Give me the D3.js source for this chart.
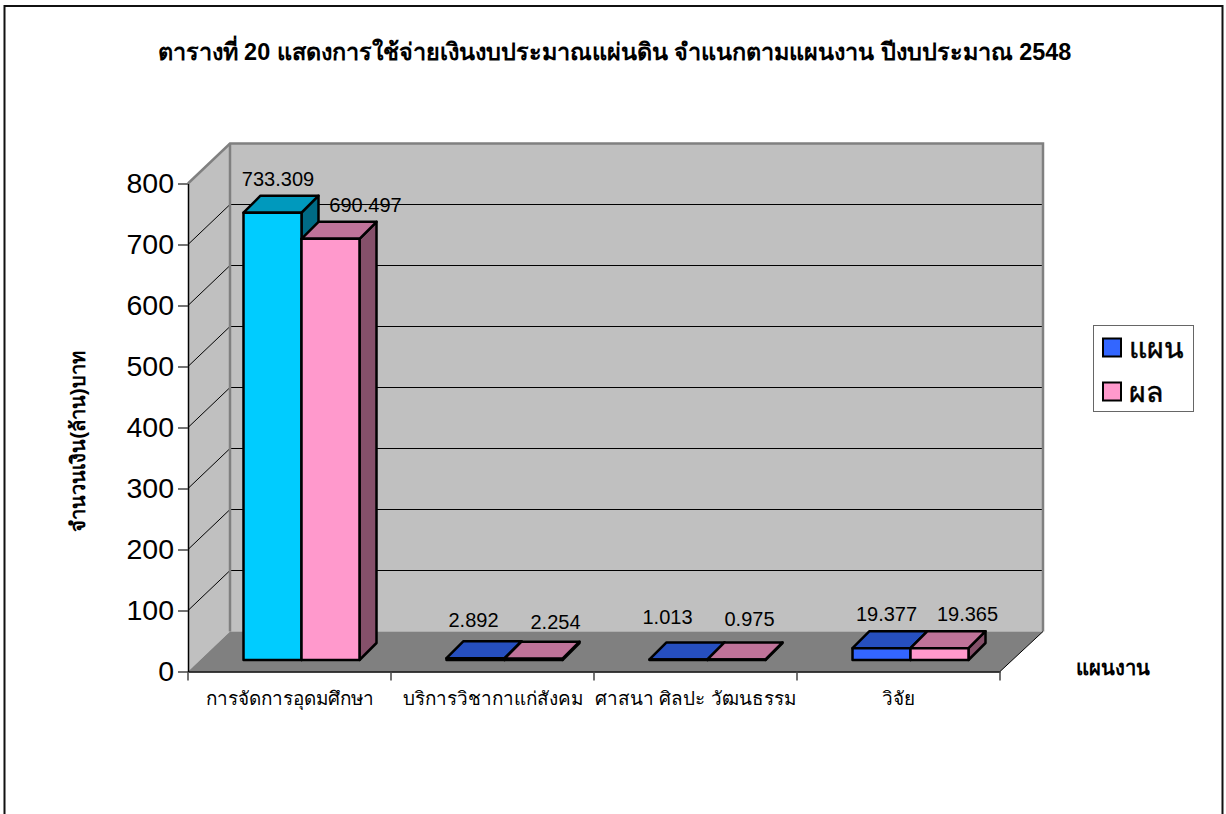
<!DOCTYPE html>
<html>
<head>
<meta charset="utf-8">
<script src="https://cdn.jsdelivr.net/npm/d3@7"></script>
<style>
html, body { margin: 0; padding: 0; background: #fff; }
svg { display: block; }
text { font-family: "Liberation Sans", Arial, "Noto Sans", sans-serif; fill: #000; }
</style>
</head>
<body>
<svg id="chart" width="1226" height="814"></svg>
<script>
var categories = ["การจัดการอุดมศึกษา", "บริการวิชากาแก่สังคม", "ศาสนา ศิลปะ วัฒนธรรม", "วิจัย"];
var seriesNames = ["แผน", "ผล"];
var planValues = [733.309, 2.892, 1.013, 19.377];
var resultValues = [690.497, 2.254, 0.975, 19.365];
var yTicks = [0, 100, 200, 300, 400, 500, 600, 700, 800];
var titleText = "ตารางที่ 20 แสดงการใช้จ่ายเงินงบประมาณแผ่นดิน จำแนกตามแผนงาน ปีงบประมาณ 2548";
var yAxisTitle = "จำนวนเงิน(ล้าน)บาท";
var xAxisTitle = "แผนงาน";

var svg = d3.select("#chart");

// frame, open at the bottom
svg.append("path")
	.attr("d", "M4.5,814V6H1222.5V814")
	.attr("fill", "none")
	.attr("stroke", "#111")
	.attr("stroke-width", 2);

var x = d3.scaleBand().domain(categories).range([188, 1000]);
var y = d3.scaleLinear().domain([0, 800]).range([671.5, 183.5]);

var depthX = 42, depthY = -40;

var walls = svg.append("g");
walls.append("polygon")
	.attr("points", [[188, y(0)], [188 + depthX, y(0) + depthY], [188 + depthX, y(800) + depthY], [188, y(800)]].join(" "))
	.attr("fill", "#c0c0c0");
walls.append("rect")
	.attr("x", 188 + depthX).attr("y", y(800) + depthY)
	.attr("width", 812 + 1).attr("height", 488)
	.attr("fill", "#c0c0c0");
walls.append("polygon")
	.attr("points", [[188, y(0)], [188 + depthX, y(0) + depthY], [1000 + depthX + 1, y(0) + depthY], [1000, y(0)]].join(" "))
	.attr("fill", "#808080");

// gridlines on side and back wall
var grid = svg.append("g");
grid.selectAll("path")
	.data(yTicks.slice(1))
	.enter().append("path")
	.attr("d", function (d) {
		return "M188," + y(d) + "L" + (188 + depthX) + "," + (y(d) + depthY) + "H" + (1000 + depthX + 1);
	})
	.attr("fill", "none")
	.attr("stroke", "#000")
	.attr("stroke-width", 1);

// wall outlines
walls = svg.append("g").attr("fill", "none").attr("stroke", "#808080").attr("stroke-width", 2.5);
walls.append("path").attr("d", "M188," + y(800) + "L" + (188 + depthX) + "," + (y(800) + depthY) + "H" + (1000 + depthX + 1) + "V" + (y(0) + depthY));
walls.append("path").attr("d", "M" + (188 + depthX) + "," + (y(800) + depthY) + "V" + (y(0) + depthY));
walls.append("path").attr("d", "M1000," + y(0) + "L" + (1000 + depthX + 1) + "," + (y(0) + depthY)).attr("stroke", "#000").attr("stroke-width", 1);

// axes
var xAxis = svg.append("g")
	.attr("transform", "translate(0," + y(0) + ")")
	.call(d3.axisBottom(x).tickValues([]).tickSize(0));
xAxis.select(".domain").attr("stroke", "#000").attr("stroke-width", 1.5);
svg.append("g").selectAll("line")
	.data(categories.concat([null]))
	.enter().append("line")
	.attr("x1", function (d) { return d === null ? 1000 : x(d); })
	.attr("x2", function (d) { return d === null ? 1000 : x(d); })
	.attr("y1", y(0))
	.attr("y2", y(0) + 9)
	.attr("stroke", "#444")
	.attr("stroke-width", 1.5);

var yAxis = svg.append("g")
	.attr("transform", "translate(188,0)")
	.call(d3.axisLeft(y).tickValues(yTicks).tickSize(10).tickPadding(4).tickSizeOuter(0));
yAxis.select(".domain").attr("stroke", "#000").attr("stroke-width", 1.5);
yAxis.selectAll(".tick line").attr("stroke", "#444").attr("stroke-width", 1.5);
yAxis.selectAll("text")
	.style("font-family", "'Liberation Sans'")
	.style("font-size", "28.5px");

// bars
var barX = d3.scaleBand().domain([0, 1]).range([0, 116]);
var barDX = 17, barDY = -17, barFloor = 11.5;

function barColor(s, i) {
	if (s === 0) {
		return i === 0
			? { front: "#00ccff", top: "#0099bd", side: "#006a85" }
			: { front: "#3366ff", top: "#264fbf", side: "#1b3985" };
	}
	return { front: "#ff99cc", top: "#bf7399", side: "#85506a" };
}

function barLeft(catIndex, s) {
	return x(categories[catIndex]) + 55.5 + barX(s);
}

function drawBar(group, catIndex, s, value) {
	var left = barLeft(catIndex, s);
	var w = barX.bandwidth();
	var bottom = y(0) - barFloor;
	var top = bottom - (y(0) - y(value));
	var c = barColor(s, catIndex);
	group.append("polygon")
		.attr("points", [[left + w, bottom], [left + w + barDX, bottom + barDY], [left + w + barDX, top + barDY], [left + w, top]].join(" "))
		.attr("fill", c.side);
	group.append("polygon")
		.attr("points", [[left, top], [left + barDX, top + barDY], [left + w + barDX, top + barDY], [left + w, top]].join(" "))
		.attr("fill", c.top);
	group.append("rect")
		.attr("x", left).attr("y", top)
		.attr("width", w).attr("height", bottom - top)
		.attr("fill", c.front);
}

var bars = svg.append("g")
	.attr("stroke", "#000")
	.attr("stroke-width", 2.5)
	.attr("stroke-linejoin", "round");
categories.forEach(function (c, i) {
	drawBar(bars, i, 0, planValues[i]);
	drawBar(bars, i, 1, resultValues[i]);
});

// value labels, these were moved by hand in the original so each gets a nudge
var nudge = [
	[[5.5, 0], [35, 0]],
	[[-2, -4], [22, -3]],
	[[-11, -8], [13, -6.5]],
	[[5, 0], [28, 0]]
];
var labels = svg.append("g").attr("font-size", 20).attr("text-anchor", "middle");
categories.forEach(function (c, i) {
	[planValues[i], resultValues[i]].forEach(function (v, s) {
		var top = y(0) - barFloor - (y(0) - y(v));
		labels.append("text")
			.attr("x", barLeft(i, s) + barX.bandwidth() / 2 + nudge[i][s][0])
			.attr("y", top - 27 + nudge[i][s][1])
			.text(v.toFixed(3));
	});
});

// category labels
svg.append("g").selectAll("text")
	.data(categories)
	.enter().append("text")
	.attr("x", function (d) { return x(d) + x.bandwidth() / 2; })
	.attr("y", 704.5)
	.attr("text-anchor", "middle")
	.attr("font-size", 18.9)
	.text(function (d) { return d; });

svg.append("text")
	.attr("x", 614.5).attr("y", 60)
	.attr("text-anchor", "middle")
	.attr("font-size", 23.45)
	.attr("font-weight", "bold")
	.text(titleText);

svg.append("text")
	.attr("transform", "translate(85,441.5) rotate(-90)")
	.attr("text-anchor", "middle")
	.attr("font-size", 20)
	.attr("font-weight", "bold")
	.text(yAxisTitle);

svg.append("text")
	.attr("x", 1112.5).attr("y", 675)
	.attr("text-anchor", "middle")
	.attr("font-size", 20.2)
	.attr("font-weight", "bold")
	.text(xAxisTitle);

// legend
var legend = svg.append("g");
legend.append("rect")
	.attr("x", 1093.5).attr("y", 325.5)
	.attr("width", 100).attr("height", 86)
	.attr("fill", "#fff")
	.attr("stroke", "#666")
	.attr("stroke-width", 1);
var legendY = d3.scalePoint().domain(seriesNames).range([347.5, 391.5]);
var legendRow = legend.selectAll("g")
	.data(seriesNames)
	.enter().append("g")
	.attr("transform", function (d) { return "translate(1103," + legendY(d) + ")"; });
legendRow.append("rect")
	.attr("y", -9).attr("width", 18).attr("height", 18)
	.attr("fill", function (d, i) { return i === 0 ? "#3366ff" : "#ff99cc"; })
	.attr("stroke", "#000")
	.attr("stroke-width", 2);
legendRow.append("text")
	.attr("x", 26).attr("y", 10)
	.attr("font-size", 28.5)
	.attr("stroke", "#000")
	.attr("stroke-width", 0.5)
	.text(function (d) { return d; });
</script>
</body>
</html>
